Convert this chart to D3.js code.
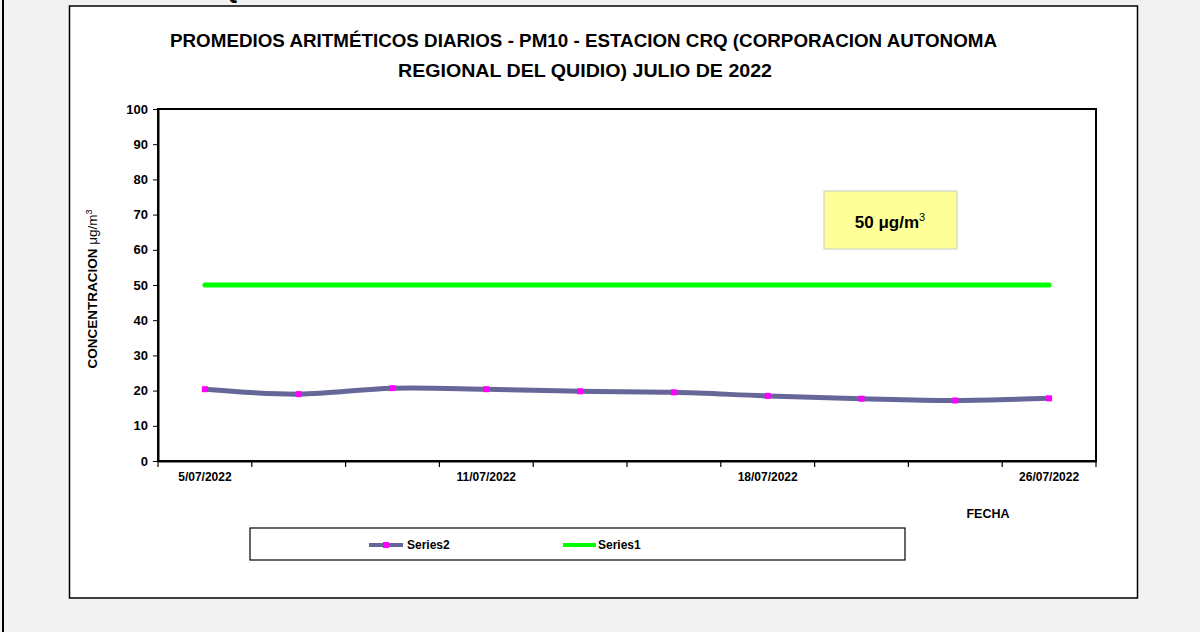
<!DOCTYPE html>
<html><head><meta charset="utf-8">
<script src="https://cdn.jsdelivr.net/npm/d3@7"></script>
<style>body{margin:0;background:#f2f2f2;}svg{display:block;}</style>
</head><body>
<script>
const titleLines = ["PROMEDIOS ARITMÉTICOS DIARIOS - PM10 -  ESTACION CRQ (CORPORACION AUTONOMA", "REGIONAL DEL QUIDIO) JULIO DE 2022"];
const categories = ["5/07/2022","7/07/2022","9/07/2022","11/07/2022","13/07/2022","15/07/2022","18/07/2022","20/07/2022","22/07/2022","26/07/2022"];
const tickLabels = ["5/07/2022","11/07/2022","18/07/2022","26/07/2022"];
const series2 = [20.4, 19.0, 20.7, 20.4, 19.8, 19.5, 18.5, 17.7, 17.2, 17.8];
const series1 = [50, 50, 50, 50, 50, 50, 50, 50, 50, 50];
const yTicks = [0,10,20,30,40,50,60,70,80,90,100];

const W = 1200, H = 632;
const svg = d3.select("body").append("svg").attr("width", W).attr("height", H);
const font = "Arial, 'Liberation Sans', sans-serif";

svg.append("rect").attr("width", W).attr("height", H).attr("fill", "#f2f2f2");
svg.append("line").attr("x1",3).attr("x2",3).attr("y1",0).attr("y2",H).attr("stroke","#000").attr("stroke-width",2);
// fragment of glyph above the chart (cut off at the top edge, as in the reference)
svg.append("text").attr("x",222).attr("y",-2).attr("font-family",font).attr("font-weight","bold").attr("font-size",22).text("Q");

// chart box
svg.append("rect").attr("x",69.5).attr("y",6).attr("width",1068).attr("height",592)
  .attr("fill","#fff").attr("stroke","#000").attr("stroke-width",1.5);

// title
const tl = [{x0:170,x1:997,y:47},{x0:398,x1:772,y:77}];
titleLines.forEach((t,i)=>{
  svg.append("text").attr("x",tl[i].x0).attr("y",tl[i].y)
    .attr("font-family","'Liberation Sans Narrow','Arial Narrow',Arial,sans-serif")
    .attr("font-weight","bold").attr("font-size",18.5).attr("fill","#000")
    .attr("textLength",tl[i].x1-tl[i].x0).attr("lengthAdjust","spacingAndGlyphs").text(t);
});

const m = {l:158, r:1096, t:109, b:461};
const x = d3.scaleBand().domain(categories).range([m.l, m.r]);
const y = d3.scaleLinear().domain([0,100]).range([m.b, m.t]);

// plot frame
svg.append("rect").attr("x",m.l).attr("y",m.t).attr("width",m.r-m.l).attr("height",m.b-m.t)
  .attr("fill","#fff").attr("stroke","#000").attr("stroke-width",2);

// y axis
const ya = svg.append("g").attr("transform",`translate(${m.l},0)`)
  .call(d3.axisLeft(y).tickValues(yTicks).tickSize(5).tickSizeOuter(0));
ya.select(".domain").attr("stroke","#000").attr("stroke-width",2);
ya.selectAll(".tick line").attr("stroke","#000");
ya.selectAll(".tick text").attr("font-family",font).attr("font-weight","bold").attr("font-size",13).attr("fill","#000").attr("x",-10);

// x axis
const xa = svg.append("g").attr("transform",`translate(0,${m.b})`)
  .call(d3.axisBottom(x).tickValues([]).tickSizeOuter(0));
xa.select(".domain").attr("stroke","#000").attr("stroke-width",2);
const bounds = categories.map(c=>x(c)).concat([m.r]);
xa.selectAll("line.tk").data(bounds).join("line").attr("class","tk")
  .attr("x1",d=>d).attr("x2",d=>d).attr("y1",0).attr("y2",6).attr("stroke","#000").attr("stroke-width",1.2);
xa.selectAll("text.lb").data(tickLabels).join("text").attr("class","lb")
  .attr("x",d=>x(d)+x.bandwidth()/2).attr("y",20).attr("text-anchor","middle")
  .attr("font-family",font).attr("font-weight","bold").attr("font-size",12).attr("fill","#000").text(d=>d);

// axis titles
const yl = svg.append("text").attr("transform","translate(97,289) rotate(-90)").attr("text-anchor","middle")
  .attr("font-family",font).attr("font-weight","bold").attr("font-size",13.5).attr("fill","#000");
yl.append("tspan").text("CONCENTRACION ");
yl.append("tspan").attr("font-weight","normal").text("μg/m");
yl.append("tspan").attr("font-weight","normal").attr("font-size",9).attr("dy",-5).text("3");
svg.append("text").attr("x",988).attr("y",518).attr("text-anchor","middle")
  .attr("font-family",font).attr("font-weight","bold").attr("font-size",12.5).text("FECHA");

const cx = d => x(d) + x.bandwidth()/2;
// series1
svg.append("path").datum(series1)
  .attr("d", d3.line().x((d,i)=>cx(categories[i])).y(d=>y(d)))
  .attr("fill","none").attr("stroke","#00ff00").attr("stroke-width",5).attr("stroke-linecap","round");
// series2
svg.append("path").datum(series2)
  .attr("d", d3.line().curve(d3.curveCatmullRom.alpha(0.5)).x((d,i)=>cx(categories[i])).y(d=>y(d)))
  .attr("fill","none").attr("stroke","#666699").attr("stroke-width",5).attr("stroke-linejoin","round");
svg.selectAll("rect.mk").data(series2).join("rect").attr("class","mk")
  .attr("x",(d,i)=>cx(categories[i])-3).attr("y",d=>y(d)-3).attr("width",6).attr("height",6).attr("fill","#ff00ff");

// annotation box
svg.append("rect").attr("x",824).attr("y",191).attr("width",133).attr("height",58)
  .attr("fill","#ffff99").attr("stroke","#c8c8c8").attr("stroke-width",1);
const at = svg.append("text").attr("x",890).attr("y",228).attr("text-anchor","middle")
  .attr("font-family",font).attr("font-weight","bold").attr("font-size",17).attr("fill","#000");
at.append("tspan").text("50 μg/m");
at.append("tspan").attr("font-size",11).attr("font-weight","normal").attr("dy",-7).text("3");

// legend
svg.append("rect").attr("x",250).attr("y",528).attr("width",655).attr("height",32)
  .attr("fill","#fff").attr("stroke","#000").attr("stroke-width",1.2);
const ly = 545;
svg.append("line").attr("x1",369).attr("x2",403).attr("y1",ly).attr("y2",ly).attr("stroke","#666699").attr("stroke-width",4);
svg.append("rect").attr("x",383).attr("y",ly-3).attr("width",6).attr("height",6).attr("fill","#ff00ff");
svg.append("text").attr("x",407).attr("y",ly+4).attr("font-family",font).attr("font-weight","bold").attr("font-size",12).text("Series2");
svg.append("line").attr("x1",563).attr("x2",596).attr("y1",ly).attr("y2",ly).attr("stroke","#00ff00").attr("stroke-width",4);
svg.append("text").attr("x",598).attr("y",ly+4).attr("font-family",font).attr("font-weight","bold").attr("font-size",12).text("Series1");
</script>
</body></html>
